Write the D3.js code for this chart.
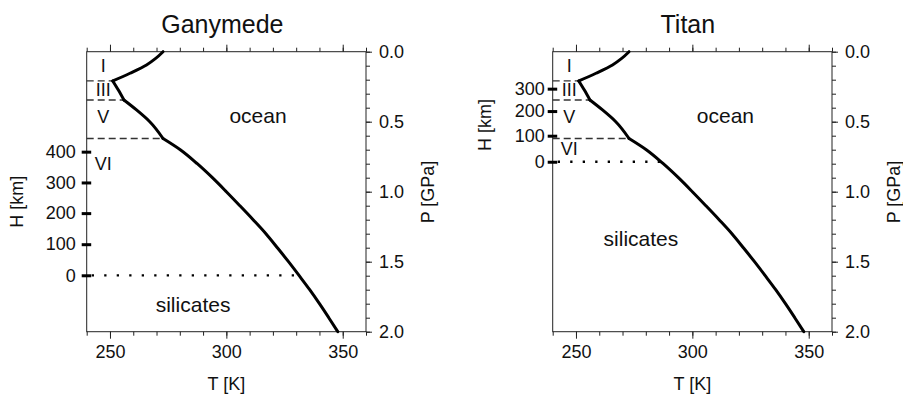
<!DOCTYPE html>
<html>
<head>
<meta charset="utf-8">
<script src="https://cdn.jsdelivr.net/npm/d3@7"></script>
<style>
  body { margin: 0; background: #fff; }
  svg text { font-family: "Liberation Sans", Arial, Helvetica, sans-serif; fill: #111; }
</style>
</head>
<body>
<div id="chart"></div>
<script>
// melting curve of water ice, P [GPa] vs T [K]
const meltP = [0, 0.05, 0.095, 0.154, 0.209, 0.274, 0.345, 0.416, 0.5, 0.62,
               0.7, 0.8, 0.9, 1.0, 1.1, 1.2, 1.3, 1.4, 1.5, 1.6, 1.7, 1.8, 1.9, 2.0];
const meltT = [272.8, 269.5, 265.7, 258.6, 251.2, 253.6, 256.0, 261.4, 267.1, 272.8,
               280.2, 287.5, 294.0, 300.0, 305.8, 311.5, 317.0, 321.9, 326.7, 331.3,
               335.8, 340.0, 344.0, 347.9];

// phase boundaries (dashed) in GPa
const boundP = [0.209, 0.345, 0.62];
const phaseNames = ["I", "III", "V", "VI"];

const tMajor = [250, 300, 350];
const pMajor = [0.0, 0.5, 1.0, 1.5, 2.0];

// height above silicate floor -> pressure, per moon
const ganyH = [0, 100, 200, 300, 400];
const ganyHP = [1.597, 1.375, 1.153, 0.934, 0.714];
const titanH = [0, 100, 200, 300];
const titanHP = [0.786, 0.6, 0.424, 0.264];

const moons = [
  { name: "Ganymede", x0: 86.7, hTicks: ganyH, hP: ganyHP, hPad: 6,
    phaseLabelP: [0.143, 0.316, 0.511, 0.845],
    ocean: [313.6, 0.512], silicates: [285.7, 1.857], titleDx: -4 },
  { name: "Titan", x0: 552.7, hTicks: titanH, hP: titanHP, hPad: 3,
    phaseLabelP: [0.143, 0.316, 0.511, 0.738],
    ocean: [314.2, 0.512], silicates: [277.9, 1.388], titleDx: -4.5 }
];

const W = 903, H = 394;
const boxW = 279.3, y0 = 51.7, y1 = 331.7;

const svg = d3.select("#chart").append("svg")
  .attr("width", W).attr("height", H);

function styleAxis(g, size) {
  g.attr("font-family", null).attr("font-size", null);
  g.select(".domain").remove();
  g.selectAll(".tick line").attr("stroke", "#222").attr("stroke-width", 1);
  g.selectAll(".tick text").style("font-size", size + "px").attr("fill", "#111");
}

// split curve into phase segments so corners stay sharp
const pts = d3.zip(meltP, meltT);
const cuts = [0, ...boundP.map(p => meltP.indexOf(p)), meltP.length - 1];
const segments = d3.pairs(cuts).map(([a, b]) => pts.slice(a, b + 1));

moons.forEach(m => {
  const x = d3.scaleLinear().domain([240, 360]).range([m.x0, m.x0 + boxW]);
  const y = d3.scaleLinear().domain([0, 2]).range([y0, y1]);
  const hy = d3.scaleLinear().domain(m.hTicks).range(m.hP.map(p => y(p)));
  const g = svg.append("g");
  const tMinor = x.ticks(12);
  const pMinor = y.ticks(20);

  // T axes (bottom with labels, top without)
  g.append("g").attr("transform", `translate(0,${y1})`)
    .call(d3.axisBottom(x).tickValues(tMinor).tickSize(4).tickFormat(""))
    .call(a => styleAxis(a, 18));
  g.append("g").attr("transform", `translate(0,${y1})`)
    .call(d3.axisBottom(x).tickValues(tMajor).tickSize(7).tickPadding(7).tickFormat(d3.format("d")))
    .call(a => styleAxis(a, 18));
  g.append("g").attr("transform", `translate(0,${y0})`)
    .call(d3.axisTop(x).tickValues(tMinor).tickSize(4).tickFormat(""))
    .call(a => styleAxis(a, 18));
  g.append("g").attr("transform", `translate(0,${y0})`)
    .call(d3.axisTop(x).tickValues(tMajor).tickSize(7).tickFormat(""))
    .call(a => styleAxis(a, 18));

  // P axis on the right
  const xr = m.x0 + boxW;
  g.append("g").attr("transform", `translate(${xr},0)`)
    .call(d3.axisRight(y).tickValues(pMinor).tickSize(4).tickFormat(""))
    .call(a => styleAxis(a, 18));
  g.append("g").attr("transform", `translate(${xr},0)`)
    .call(d3.axisRight(y).tickValues(pMajor).tickSize(6).tickPadding(7).tickFormat(d3.format(".1f")))
    .call(a => styleAxis(a, 18));

  // box
  g.append("rect").attr("x", m.x0).attr("y", y0).attr("width", boxW).attr("height", y1 - y0)
    .attr("fill", "none").attr("stroke", "#222").attr("stroke-width", 1);

  // H axis on the left (thick crossing ticks)
  g.append("g").attr("transform", `translate(${m.x0},0)`)
    .call(d3.axisLeft(hy).tickValues(m.hTicks).tickSize(5).tickPadding(m.hPad).tickFormat(d3.format("d")))
    .call(a => {
      styleAxis(a, 18);
      a.selectAll(".tick line").attr("x1", 4.5).attr("stroke", "#000").attr("stroke-width", 3);
    });

  // dashed phase boundaries
  boundP.forEach(p => {
    const i = meltP.indexOf(p);
    g.append("line")
      .attr("x1", m.x0).attr("x2", x(meltT[i]))
      .attr("y1", y(p)).attr("y2", y(p))
      .attr("stroke", "#333").attr("stroke-width", 1.3).attr("stroke-dasharray", "7,4");
  });

  // dotted silicate floor at H = 0
  const pFloor = hy(0);
  const floorT = d3.scaleLinear().domain(meltP.map(p => y(p))).range(meltT)(pFloor);
  g.append("line")
    .attr("x1", m.x0 + 5).attr("x2", x(floorT))
    .attr("y1", pFloor).attr("y2", pFloor)
    .attr("stroke", "#000").attr("stroke-width", 2.3).attr("stroke-dasharray", "2.3,10.2");

  // melting curve
  const line = d3.line().x(d => x(d[1])).y(d => y(d[0])).curve(d3.curveMonotoneY);
  g.selectAll(".melt").data(segments).join("path")
    .attr("class", "melt")
    .attr("d", line).attr("fill", "none")
    .attr("stroke", "#000").attr("stroke-width", 3)
    .attr("stroke-linejoin", "round").attr("stroke-linecap", "round");

  // phase labels
  phaseNames.forEach((n, i) => {
    g.append("text").attr("x", x(247.1)).attr("y", y(m.phaseLabelP[i]))
      .attr("text-anchor", "middle").style("font-size", "18px").text(n);
  });
  g.append("text").attr("x", x(m.ocean[0])).attr("y", y(m.ocean[1]))
    .attr("text-anchor", "middle").style("font-size", "21px").text("ocean");
  g.append("text").attr("x", x(m.silicates[0])).attr("y", y(m.silicates[1]))
    .attr("text-anchor", "middle").style("font-size", "21px").text("silicates");

  // title and axis labels
  const cx = m.x0 + boxW / 2;
  g.append("text").attr("x", cx + m.titleDx).attr("y", 33.3)
    .attr("text-anchor", "middle").style("font-size", "25px").text(m.name);
  g.append("text").attr("x", cx).attr("y", 390)
    .attr("text-anchor", "middle").style("font-size", "18px").text("T [K]");
  g.append("text")
    .attr("transform", m.name === "Ganymede" ? "translate(23.3,201.7) rotate(-90)" : "translate(490.5,125) rotate(-90)")
    .attr("text-anchor", "middle").style("font-size", "18px").text("H [km]");
  g.append("text")
    .attr("transform", `translate(${xr + 68},192) rotate(-90)`)
    .attr("text-anchor", "middle").style("font-size", "18px").text("P [GPa]");
});
</script>
</body>
</html>
